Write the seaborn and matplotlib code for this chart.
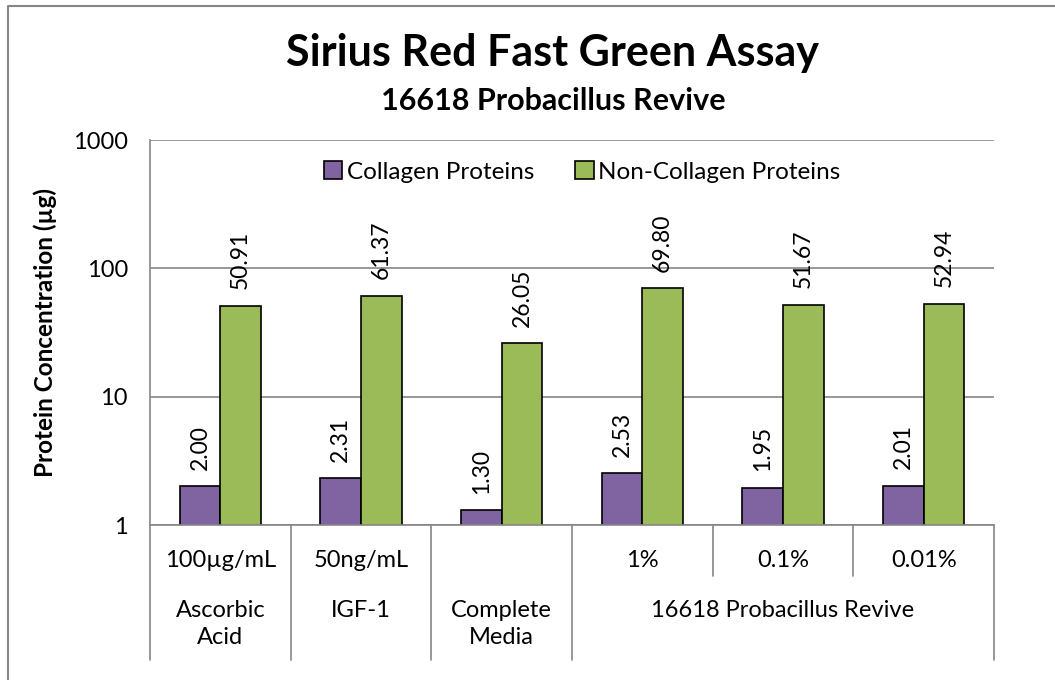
import numpy as np
import pandas as pd
from matplotlib import pyplot as plt
from matplotlib.lines import Line2D
from matplotlib.patches import Patch
import matplotlib.transforms as mtransforms
import seaborn as sns

# chart data
conditions = ["Ascorbic Acid", "IGF-1", "Complete Media", "16618 1%", "16618 0.1%", "16618 0.01%"]
dose_labels = ["100µg/mL", "50ng/mL", "", "1%", "0.1%", "0.01%"]
group_labels = ["Ascorbic\nAcid", "IGF-1", "Complete\nMedia", "16618 Probacillus Revive"]
group_spans = [(0, 0), (1, 1), (2, 2), (3, 5)]
collagen = [2.00, 2.31, 1.30, 2.53, 1.95, 2.01]
non_collagen = [50.91, 61.37, 26.05, 69.80, 51.67, 52.94]
series = ["Collagen Proteins", "Non-Collagen Proteins"]

df = pd.DataFrame({
    "condition": conditions * 2,
    "value": collagen + non_collagen,
    "protein": [series[0]] * len(conditions) + [series[1]] * len(conditions),
})

sns.set_style("white")
plt.rcParams["font.family"] = ["Lato", "DejaVu Sans"]
plt.rcParams["text.color"] = "black"
plt.rcParams["axes.labelcolor"] = "black"

gray = "#868686"
colors = ["#8064A2", "#9BBB59"]

fig = plt.figure(figsize=(10.55, 6.8), dpi=100)
ax = fig.add_axes([150 / 1055, 1 - 525 / 680, 844 / 1055, 385 / 680])

sns.barplot(data=df, x="condition", y="value", hue="protein", order=conditions,
            hue_order=series, palette=colors, width=0.58, gap=0,
            edgecolor="black", linewidth=1.2, saturation=1, ax=ax, legend=False)

ax.set_yscale("log")
ax.set_ylim(1, 1000)
ax.set_xlim(-0.5, len(conditions) - 0.5)
ax.set_yticks([1, 10, 100, 1000])
ax.set_yticklabels(["1", "10", "100", "1000"])
ax.minorticks_off()
ax.yaxis.grid(True, color=gray, linewidth=1.2)
ax.set_axisbelow(True)
ax.tick_params(axis="y", length=7, color=gray, width=1.2, labelsize=17, pad=9,
               labelcolor="black")
ax.tick_params(axis="x", length=0, labelbottom=False)
ax.set_xlabel("")
ax.set_ylabel("Protein Concentration (µg)", fontsize=17.5, fontweight="bold", labelpad=11)
for s in ["top", "right"]:
    ax.spines[s].set_visible(False)
for s in ["left", "bottom"]:
    ax.spines[s].set_color(gray)
    ax.spines[s].set_linewidth(1.2)

# value labels
for cont in ax.containers:
    ax.bar_label(cont, fmt="%.2f", rotation=90, padding=12, fontsize=16.5)

# legend
handles = [Patch(facecolor=c, edgecolor="black", linewidth=1.2) for c in colors]
ax.legend(handles, series, ncol=2, frameon=False, loc="center",
          bbox_to_anchor=(0.512, 0.917), fontsize=17.5, handlelength=0.75,
          handleheight=0.75, handletextpad=0.2, columnspacing=1.7)

# two-level category axis
trans = mtransforms.blended_transform_factory(ax.transData, ax.transAxes)
for i, lab in enumerate(dose_labels):
    ax.text(i, -0.091, lab, transform=trans, ha="center", va="center", fontsize=17)
for (a, b), lab in zip(group_spans, group_labels):
    ax.text((a + b) / 2, -0.196, lab, transform=trans, ha="center", va="top",
            fontsize=17, linespacing=1.35)
long_edges = [-0.5] + [b + 0.5 for a, b in group_spans]
short_edges = [x + 0.5 for a, b in group_spans for x in range(a, b)]
for x in long_edges:
    ax.add_line(Line2D([x, x], [0, -0.351], transform=trans, color=gray,
                       linewidth=1.2, clip_on=False))
for x in short_edges:
    ax.add_line(Line2D([x, x], [0, -0.132], transform=trans, color=gray,
                       linewidth=1.2, clip_on=False))

# titles
fig.text(552 / 1055, 1 - 53 / 680, "Sirius Red Fast Green Assay", ha="center",
         va="center", fontsize=31, fontweight="bold")
fig.text(553 / 1055, 1 - 101 / 680, "16618 Probacillus Revive", ha="center",
         va="center", fontsize=22, fontweight="bold")

# chart frame (left and top edges visible)
fig.add_artist(Line2D([8 / 1055, 8 / 1055, 1], [0, 1 - 6 / 680, 1 - 6 / 680],
                      transform=fig.transFigure, color=gray, linewidth=1.5))

fig.savefig("out.png", dpi=100)
